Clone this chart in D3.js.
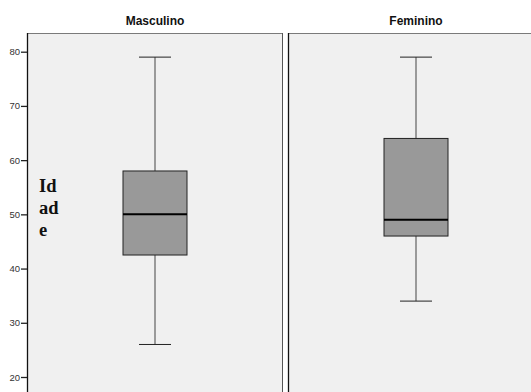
<!DOCTYPE html>
<html>
<head>
<meta charset="utf-8">
<script src="https://cdn.jsdelivr.net/npm/d3@7"></script>
<style>
  html, body { margin: 0; padding: 0; background: #fff; }
  svg { display: block; }
</style>
</head>
<body>
<svg id="chart" width="531" height="392"></svg>
<script>
// Idade por sexo — box plot summaries
const groups = ["Masculino", "Feminino"];
const whiskerLow = [26, 34];
const q1 = [42.5, 46];
const median = [50, 49];
const q3 = [58, 64];
const whiskerHigh = [79, 79];
const yTicks = [20, 30, 40, 50, 60, 70, 80];
const yLabelLines = ["Id", "ad", "e"];

const svg = d3.select("#chart");
const W = 531, H = 392;

const panelTop = 33;
const panelBottom = H + 10;
const y = d3.scaleLinear().domain([20, 80]).range([377, 51.7]);

// each panel is a band; panels are separated by a small gap
const x = d3.scaleBand().domain(groups).range([27, 544]).paddingInner(5 / 261).paddingOuter(0);
const boxHalf = 32;
const capHalf = 16;

groups.forEach((g, i) => {
  const x0 = x(g), bw = x.bandwidth();
  const cx = x0 + bw / 2;
  const panel = svg.append("g");

  panel.append("rect")
    .attr("x", x0).attr("y", panelTop)
    .attr("width", bw).attr("height", panelBottom - panelTop)
    .attr("fill", "#f0f0f0");
  // top and side frames
  panel.append("line")
    .attr("x1", x0).attr("x2", x0 + bw).attr("y1", panelTop + 0.5).attr("y2", panelTop + 0.5)
    .attr("stroke", "#7a7a7a").attr("stroke-width", 1);
  panel.append("line")
    .attr("x1", x0 + 0.5).attr("x2", x0 + 0.5).attr("y1", panelTop).attr("y2", panelBottom)
    .attr("stroke", "#111").attr("stroke-width", 1.3);
  panel.append("line")
    .attr("x1", x0 + bw - 0.5).attr("x2", x0 + bw - 0.5).attr("y1", panelTop).attr("y2", panelBottom)
    .attr("stroke", "#555").attr("stroke-width", 1);

  // title
  svg.append("text")
    .attr("x", cx).attr("y", 25)
    .attr("text-anchor", "middle")
    .attr("font-family", "Liberation Sans, Arial, sans-serif")
    .attr("font-weight", "bold").attr("font-size", 12)
    .attr("fill", "#111")
    .text(g);

  // whisker stem
  panel.append("line")
    .attr("x1", cx).attr("x2", cx)
    .attr("y1", y(whiskerHigh[i])).attr("y2", y(whiskerLow[i]))
    .attr("stroke", "#444").attr("stroke-width", 1);
  // whisker caps
  [whiskerHigh[i], whiskerLow[i]].forEach(v => {
    panel.append("line")
      .attr("x1", cx - capHalf).attr("x2", cx + capHalf)
      .attr("y1", y(v)).attr("y2", y(v))
      .attr("stroke", "#222").attr("stroke-width", 1);
  });
  // box
  panel.append("rect")
    .attr("x", cx - boxHalf).attr("y", y(q3[i]))
    .attr("width", boxHalf * 2).attr("height", y(q1[i]) - y(q3[i]))
    .attr("fill", "#999999").attr("stroke", "#222").attr("stroke-width", 1);
  // median
  panel.append("line")
    .attr("x1", cx - boxHalf).attr("x2", cx + boxHalf)
    .attr("y1", y(median[i])).attr("y2", y(median[i]))
    .attr("stroke", "#000").attr("stroke-width", 2);
});

// y axis
const axis = d3.axisLeft(y).tickValues(yTicks).tickSize(6).tickPadding(1).tickFormat(d3.format("d"));
const gAxis = svg.append("g").attr("transform", `translate(${x(groups[0])},0)`).call(axis);
gAxis.select(".domain").remove();
gAxis.selectAll(".tick line").attr("stroke", "#222").attr("stroke-width", 1.3);
gAxis.selectAll(".tick text")
  .attr("font-family", "Liberation Sans, Arial, sans-serif")
  .attr("font-size", 9.5).attr("fill", "#333");

// y axis title, wrapped
svg.append("text")
  .attr("font-family", "Liberation Serif, serif")
  .attr("font-weight", "bold").attr("font-size", 18.5)
  .attr("fill", "#111")
  .selectAll("tspan").data(yLabelLines).join("tspan")
  .attr("x", 39).attr("y", (d, i) => 192 + i * 22)
  .text(d => d);
</script>
</body>
</html>
